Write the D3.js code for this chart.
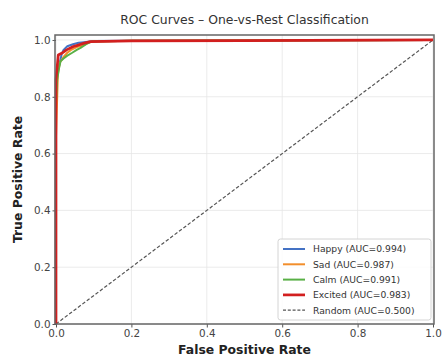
<!DOCTYPE html>
<html><head><meta charset="utf-8">
<script src="https://cdn.jsdelivr.net/npm/d3@7"></script>
<style>body{margin:0;background:#fff}svg{display:block}text{font-family:"DejaVu Sans",sans-serif}</style>
</head><body><svg id="c" width="443" height="361"></svg>
<script>
const seriesNames = ["Happy","Sad","Calm","Excited"];
const aucs = [0.994,0.987,0.991,0.983];
const colors = ["#4472c4","#f28e2b","#59b046","#d21f1f"];
const happyFpr = [0,0,0.005,0.01,0.015,0.02,0.03,0.045,0.06,0.08,0.1,0.2,0.5,1];
const happyTpr = [0,0.84,0.89,0.92,0.95,0.965,0.978,0.985,0.99,0.993,0.996,0.997,0.998,1];
const sadFpr = [0,0,0.005,0.01,0.02,0.03,0.04,0.055,0.07,0.085,0.1,0.2,0.5,1];
const sadTpr = [0,0.66,0.88,0.92,0.94,0.955,0.965,0.975,0.98,0.99,0.995,0.997,0.998,1];
const calmFpr = [0,0,0.003,0.008,0.012,0.02,0.03,0.043,0.055,0.065,0.08,0.095,0.2,0.5,1];
const calmTpr = [0,0.78,0.86,0.9,0.925,0.935,0.945,0.955,0.965,0.972,0.985,0.995,0.997,0.998,1];
const excitedFpr = [0,0,0.006,0.015,0.028,0.046,0.059,0.073,0.091,0.2,0.5,1];
const excitedTpr = [0,0.86,0.947,0.953,0.965,0.977,0.982,0.988,0.994,0.997,0.998,1];
const randomFpr = [0,1];
const randomTpr = [0,1];
const ticks = [0,0.2,0.4,0.6,0.8,1.0];
const tickLabels = ["0.0","0.2","0.4","0.6","0.8","1.0"];

const fprs=[happyFpr,sadFpr,calmFpr,excitedFpr], tprs=[happyTpr,sadTpr,calmTpr,excitedTpr];
const svg=d3.select("#c");
const L=56,R=433,T=35,B=324;
const x=d3.scaleLinear().domain([0,1]).range([L,R]);
const y=d3.scaleLinear().domain([0,1.0175]).range([B,T]);

// grid
const g=svg.append("g");
g.selectAll(".gx").data(ticks).enter().append("line").attr("x1",d=>x(d)).attr("x2",d=>x(d)).attr("y1",T).attr("y2",B).attr("stroke","#e6e6e6").attr("stroke-width",0.8);
g.selectAll(".gy").data(ticks).enter().append("line").attr("y1",d=>y(d)).attr("y2",d=>y(d)).attr("x1",L).attr("x2",R).attr("stroke","#e6e6e6").attr("stroke-width",0.8);

// axes
const xa=svg.append("g").attr("transform",`translate(0,${B})`).call(d3.axisBottom(x).tickValues(ticks).tickFormat((d,i)=>tickLabels[i]).tickSize(3.5).tickPadding(2));
const ya=svg.append("g").attr("transform",`translate(${L},0)`).call(d3.axisLeft(y).tickValues(ticks).tickFormat((d,i)=>tickLabels[i]).tickSize(3.5).tickPadding(2));
[xa,ya].forEach(a=>{a.select(".domain").remove();a.selectAll("line").attr("stroke","#555");a.selectAll("text").attr("font-size",10.4).attr("fill","#444").attr("font-family","DejaVu Sans");});

// random
const line=d3.line().x(d=>x(d[0])).y(d=>y(d[1]));
svg.append("path").datum(randomFpr.map((f,i)=>[f,randomTpr[i]])).attr("d",line).attr("fill","none").attr("stroke","#555").attr("stroke-width",1.2).attr("stroke-dasharray","3.5,2");
// curves
seriesNames.forEach((n,k)=>{
  svg.append("path").datum(fprs[k].map((f,i)=>[f,tprs[k][i]])).attr("d",line).attr("fill","none").attr("stroke",colors[k]).attr("stroke-width",k==3?2.7:2).attr("stroke-linejoin","round");
});

// frame
svg.append("rect").attr("x",L-1).attr("y",T).attr("width",R-L+2).attr("height",B-T).attr("fill","none").attr("stroke","#666").attr("stroke-width",1.5);

// title & labels
svg.append("text").attr("x",(L+R)/2).attr("y",24).attr("text-anchor","middle").attr("font-size",12.4).attr("fill","#333").text("ROC Curves – One-vs-Rest Classification");
svg.append("text").attr("x",(L+R)/2).attr("y",354).attr("text-anchor","middle").attr("font-size",12.4).attr("font-weight","bold").attr("fill","#222").text("False Positive Rate");
svg.append("text").attr("transform",`translate(22,${(T+B)/2}) rotate(-90)`).attr("text-anchor","middle").attr("font-size",12.4).attr("font-weight","bold").attr("fill","#222").text("True Positive Rate");

// legend
const lg=svg.append("g");
lg.append("rect").attr("x",278).attr("y",239).attr("width",153).attr("height",81).attr("rx",2.5).attr("fill","#fff").attr("fill-opacity",0.85).attr("stroke","#cfcfcf").attr("stroke-width",0.9);
const entries=seriesNames.map((n,k)=>({label:`${n} (AUC=${aucs[k].toFixed(3)})`,color:colors[k],dash:null,w:k==3?2.7:2}));
entries.push({label:"Random (AUC=0.500)",color:"#555",dash:"3,1.8",w:1.2});
entries.forEach((e,i)=>{
  const yy=249+i*15.3;
  lg.append("line").attr("x1",283).attr("x2",305).attr("y1",yy).attr("y2",yy).attr("stroke",e.color).attr("stroke-width",e.w).attr("stroke-dasharray",e.dash);
  lg.append("text").attr("x",313).attr("y",yy+3.4).attr("font-size",9.2).attr("fill","#333").text(e.label);
});
</script></body></html>
